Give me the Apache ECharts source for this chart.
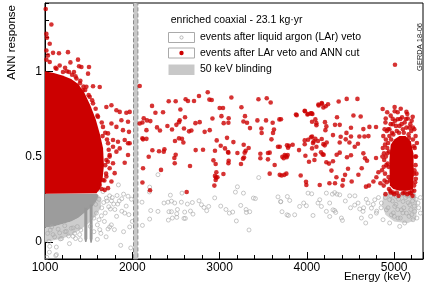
<!DOCTYPE html>
<html><head><meta charset="utf-8">
<script src="https://cdn.jsdelivr.net/npm/echarts@6/dist/echarts.min.js"></script>
<style>html,body{margin:0;padding:0;background:#fff}#c{width:427px;height:286px}</style>
</head><body><div id="c"></div>
<script>
// ---- data (energy keV, ANN response) ----
const xTickLabels = [1000, 2000, 3000, 4000, 5000];
const yTickLabels = [0, 0.5, 1];
const blinding = [2014, 2064];

// events after LAr veto and ANN cut (sparse, individually read)
const redPoints = [
[1008,1.365],[1073,1.274],[1016,1.219],[1023,1.196],[1054,1.161],[1016,1.122],[1092,1.108],[1160,1.106],[1263,1.112],[1034,1.093],
[1016,1.068],[1054,1.054],[1291,1.052],[1378,1.068],[1417,1.025],[1504,1.025],[1493,0.986],[1168,1.034],[1390,1.029],
[1275,0.996],[1332,0.996],[1550,0.912],[1627,0.908],[1474,0.909],[1405,0.944],[1703,0.791],[1761,0.801],[1818,0.772],[1856,0.762],
[1932,0.757],[1970,0.762],[1951,0.704],[1875,0.713],[1893,0.655],[1962,0.645],[1818,0.674],[1761,0.694],[1913,0.597],[1856,0.548],
[1970,0.578],[1779,0.597],[1722,0.636],[1664,0.674],[1607,0.733],[1550,0.812],[1512,0.85],[1435,0.889],[1360,0.958],[1206,0.996],[1131,1.015],
[1722,0.578],[1779,0.558],[1818,0.529],[1741,0.509],[1703,0.48],[1779,0.461],[1741,0.432],[1798,0.403],[1703,0.383],[1761,0.354],
[1684,0.305],[1722,0.315],[1913,0.464],[1951,0.509],[1951,0.578],[1836,0.587],[1627,0.334],[1664,0.363],
[1250,1.0],[1350,0.97],[1400,0.93],[1460,0.89],[1500,0.86],[1580,0.78],[1600,0.74],[1650,0.7],[1690,0.64],[1710,0.6],[1730,0.54],
[1720,0.47],[1700,0.4],[1680,0.36],[1650,0.31],[1230,1.02],[1120,1.02],[1310,0.98],[1440,0.91],[1540,0.83],[1660,0.62],[1740,0.5],[1690,0.45],
[2162,0.655],[2116,0.607],[2085,0.694],
[2085,0.914],[2226,0.797],[2417,0.824],[2497,0.824],[2611,0.836],[2638,0.826],[2707,0.826],[2764,0.855],[2864,0.877],[2883,0.834],
[2910,0.832],[3135,0.846],[3445,0.836],[3540,0.842],[3585,0.817],[2265,0.757],[2352,0.76],[2551,0.776],[3001,0.785],[3039,0.785],
[3250,0.789],[2131,0.725],[2168,0.712],[2207,0.708],[2543,0.713],[2604,0.731],[2918,0.723],[3021,0.737],[3104,0.725],[3291,0.737],
[3273,0.706],[3433,0.712],[3532,0.712],[3685,0.718],[3875,0.747],[3975,0.768],[4013,0.75],[4055,0.753],[4132,0.805],[4170,0.814],
[4215,0.795],[2116,0.7],[2283,0.671],[2317,0.653],[2402,0.679],[2455,0.659],[2505,0.686],[2535,0.702],[2592,0.665],[2650,0.648],
[2677,0.653],[2723,0.696],[2772,0.702],[2829,0.645],[2887,0.655],[3047,0.696],[3101,0.698],[3314,0.698],[3348,0.667],[3479,0.665],
[3608,0.698],[3623,0.659],[3612,0.639],[3482,0.638],[4059,0.704],[4207,0.702],[4109,0.684],[2123,0.601],[2162,0.604],[2489,0.591],
[2535,0.607],[2569,0.604],[2585,0.583],[2967,0.595],[3085,0.61],[3158,0.585],[3594,0.601],[3669,0.558],[3784,0.552],[3837,0.569],
[3910,0.538],[3975,0.595],[4059,0.618],[4097,0.604],[4127,0.591],[4170,0.603],[4204,0.566],[4109,0.558],[4059,0.548],[2230,0.537],
[2306,0.531],[2368,0.543],[2726,0.538],[2810,0.54],[2947,0.534],[3013,0.564],[3062,0.548],[3096,0.527],[3204,0.521],[3276,0.569],
[3299,0.534],[3333,0.55],[3467,0.517],[3574,0.523],[3746,0.509],[3769,0.496],[3983,0.505],[4097,0.511],[4181,0.513],[2188,0.499],
[2482,0.492],[3280,0.494],[3467,0.49],
[2123,0.432],[2360,0.529],[2497,0.511],[2486,0.461],[2329,0.422],[2116,0.348],[2203,0.303],[2661,0.445],[2623,0.293],[2929,0.478],
[2955,0.457],[3101,0.523],[3104,0.476],[3101,0.461],[3245,0.457],[3268,0.488],[3287,0.523],[2963,0.408],[2947,0.387],[2959,0.377],
[2975,0.379],[2955,0.363],[2940,0.33],[3044,0.398],[3554,0.521],[3554,0.484],[3631,0.451],[3574,0.4],[3689,0.393],[3711,0.389],
[3765,0.4],[3734,0.49],[3761,0.503],[3780,0.509],
[5009,1.038],[4135,0.799],[4173,0.809],[4189,0.788],[4242,0.807],[4364,0.823],[4456,0.838],[4579,0.838],[3978,0.766],[4006,0.747],
[4044,0.753],[4063,0.75],[3883,0.743],[4097,0.718],[4109,0.696],[4345,0.731],[4533,0.741],[4616,0.735],[4868,0.779],[5006,0.766],
[5140,0.762],[4903,0.723],[4983,0.721],[5040,0.719],[5155,0.723],[5212,0.733],[3703,0.719],[4223,0.677],[4212,0.655],[4322,0.686],
[4376,0.686],[4453,0.639],[4505,0.669],[4647,0.661],[4716,0.674],[4792,0.673],[4299,0.626],[4387,0.616],[4445,0.601],[4505,0.618],
[4601,0.618],[4659,0.618],[4705,0.62],[4013,0.599],[4047,0.613],[4078,0.589],[3975,0.572],[4189,0.573],[4227,0.583],[4376,0.583],
[4487,0.583],[4548,0.558],[4585,0.575],[3795,0.564],[3689,0.558],
[3772,0.566],[3719,0.499],[3742,0.393],[3929,0.389],[3990,0.352],[3994,0.334],[4147,0.334],[4086,0.48],[4024,0.47],[4070,0.579],
[4162,0.525],[4192,0.511],[4223,0.467],[4253,0.459],[4341,0.511],[4376,0.523],[4299,0.473],[4281,0.418],[4338,0.379],[4258,0.344],
[4322,0.344],[4414,0.363],[4437,0.393],[4471,0.429],[4505,0.508],[4459,0.496],[4407,0.33],[4513,0.354],[4590,0.394],[4628,0.432],
[4647,0.519],[4666,0.49],[4689,0.476],[4711,0.33],[4677,0.324],[4762,0.354],[4796,0.379],[4819,0.408],[4842,0.344],[4883,0.519],[4792,0.492],
[4900,0.70],[4930,0.66],[4960,0.74],[4985,0.69],[5010,0.71],[5040,0.76],[5060,0.68],[5090,0.73],[5120,0.70],[5150,0.75],[5175,0.67],
[5200,0.71],[5230,0.66],[5245,0.62],[4945,0.62],[4975,0.64],[5030,0.65],[5100,0.66],[5165,0.63],[5215,0.60],[5005,0.79],[5075,0.78],[4920,0.76],
[4870,0.55],[4885,0.48],[4895,0.40],[4905,0.60],[4915,0.35],[4925,0.52],[4935,0.44],[4940,0.31],[4880,0.33],[4900,0.28],[4910,0.45],
[4930,0.58],[4860,0.42],[4875,0.62],[4890,0.66],[5235,0.55],[5245,0.45],[5240,0.35],[5250,0.50],[5230,0.30],[5255,0.40],[5260,0.58],
[5225,0.40],[4960,0.29],[5000,0.28],[5050,0.27],[5100,0.285],[5150,0.28],[5190,0.285],[5210,0.27],
[4945,0.66],[4965,0.60],[4990,0.63],[5020,0.68],[5055,0.64],[5085,0.69],[5110,0.64],[5140,0.67],[5170,0.61],[5195,0.65],[5225,0.56],
[5240,0.5],[5232,0.42],[5248,0.37],[5228,0.33],[4935,0.38],[4925,0.46],[4940,0.53],[4920,0.55],[4905,0.5],[4890,0.36],[4950,0.36],
[4955,0.30],[4985,0.29],[5030,0.29],[5120,0.29],[5175,0.29],[5205,0.30],[4895,0.57],[4880,0.44],[4865,0.5],[4915,0.65],[4960,0.69],
[5070,0.72],[5135,0.72],[5185,0.69],[5215,0.67]
];

// events after LAr veto only (open circles, sparse)
const grayPoints = [
[1841,0.334],[1825,0.272],[1879,0.253],[1761,0.241],[1787,0.222],[1730,0.206],[1749,0.193],[1833,0.222],[1913,0.169],[1970,0.088],
[1951,0.268],[1646,0.153],[1619,0.13],[1741,0.088],[1722,0.076],[1795,0.072],[1982,-0.035],[1123,-0.08],[1600,0.015],[1867,-0.02],
[1672,0.231],[1703,0.257],[1664,0.295],[1619,0.309],[1577,0.328],[1589,0.169],[1520,0.091],[1321,0.033],[1245,0.062],[1168,0.053],
[1092,0.043],[1046,0.004],[1176,0.018],[1397,0.043],[1405,0.013],[1627,0.072],[1077,0.088],[1226,0.095],[1321,0.082],
[1030,0.05],[1060,0.07],[1110,0.03],[1150,0.075],[1190,0.02],[1230,0.06],[1270,0.035],[1300,0.08],[1340,0.05],[1370,0.09],[1410,0.07],
[1280,-0.01],[1130,-0.03],[1050,-0.06],[1020,-0.09],[1350,0.02],[1560,0.14],[1580,0.22],[1620,0.25],[1650,0.2],[1690,0.17],[1710,0.24],
[1740,0.27],[1770,0.26],[1800,0.19],[1820,0.15],[1850,0.24],[1880,0.18],[1900,0.28],[1930,0.21],[1960,0.16],[1990,0.25],[2000,0.12],
[1680,0.12],[1600,0.1],[1560,0.06],[1640,0.05],[1700,0.03],[1760,0.1],[1900,0.06],[1054,-0.026],[1131,-0.074],
[2294,0.394],[2199,0.321],[2196,0.293],[2436,0.274],[2569,0.286],[2688,0.231],[2764,0.241],[2111,0.233],[2363,0.228],[2409,0.233],
[2448,0.239],[2486,0.228],[2562,0.233],[2631,0.222],[2792,0.218],[2821,0.202],[2875,0.208],[2852,0.183],[2211,0.184],[2294,0.179],
[2420,0.177],[2448,0.177],[2517,0.19],[2509,0.165],[2600,0.175],[2666,0.181],[2695,0.163],[2459,0.14],[2413,0.128],[2509,0.144],
[2592,0.138],[2608,0.138],[2199,0.134],[2116,0.097],[2944,0.258],[3013,0.21],[3073,0.19],[3112,0.169],[3150,0.175],[3192,0.123],
[3181,0.292],[3204,0.323],[3273,0.286],[3242,0.214],[3303,0.19],[3307,0.173],[3345,0.177],[3387,0.257],[3410,0.254],[3337,0.07],
[3448,0.377],[3669,0.264],[3700,0.235],[3715,0.177],[3776,0.266],[3788,0.155],
[3700,0.237],[3803,0.243],[3772,0.159],[3860,0.159],[4070,0.155],[4013,0.286],[4055,0.282],[4147,0.247],[4127,0.228],[4166,0.208],
[4223,0.179],[4261,0.149],[4223,0.286],[4318,0.289],[4376,0.276],[4299,0.188],[4395,0.14],[3963,0.228],[3994,0.212],[3917,0.208],
[4292,0.28],[4345,0.28],[4261,0.228],[4318,0.184],[4330,0.173],[4407,0.126],[4490,0.27],[4548,0.216],[4586,0.228],[4605,0.193],
[4643,0.179],[4674,0.111],[4624,0.14],[4700,0.228],[4739,0.198],[4777,0.247],[4796,0.169],[4853,0.228],[4872,0.13],[4911,0.188],
[4948,0.247],[4968,0.159],[5006,0.208],[5025,0.266],[5044,0.14],[5083,0.188],[5101,0.237],[5120,0.111],[5140,0.169],[5178,0.218],
[5197,0.266],[5216,0.13],[5235,0.179],[5273,0.228],[5300,0.169],[4948,0.111],[5063,0.091],
[4900,0.26],[4930,0.2],[4960,0.27],[4990,0.17],[5020,0.22],[5050,0.25],[5070,0.14],[5090,0.28],[5110,0.2],[5130,0.26],[5160,0.23],
[5170,0.15],[5190,0.19],[5210,0.24],[5225,0.27],[5250,0.25],[5260,0.14],[5280,0.2],[5300,0.26],[4980,0.24],[5000,0.15],[5040,0.19],
[5100,0.17],[5150,0.27],[5200,0.16],[5230,0.21],[4850,0.2],[4820,0.26],[4800,0.18],[4760,0.22],[4730,0.15],[4680,0.25],[4650,0.2],
[4550,0.27],[4500,0.2],[4440,0.24]
];

// envelopes of the regions too dense to resolve single events
const redCoreLeft = [[1000,0.282],[1000,1.0],[1100,0.99],[1200,0.975],[1300,0.955],[1380,0.925],[1450,0.875],[1520,0.80],[1580,0.72],[1630,0.63],[1665,0.55],[1675,0.45],[1660,0.37],[1630,0.31],[1590,0.285]];
const grayCoreLeft = [[1000,0.282],[1595,0.282],[1615,0.27],[1590,0.24],[1550,0.21],[1500,0.19],[1440,0.165],[1380,0.14],[1300,0.12],[1200,0.105],[1100,0.09],[1000,0.085]];
const grayFringeLeft = [[1000,0.085],[1100,0.09],[1200,0.105],[1300,0.12],[1380,0.14],[1440,0.165],[1500,0.19],[1550,0.21],[1590,0.24],[1615,0.27],[1640,0.26],[1640,0.2],[1580,0.15],[1500,0.11],[1400,0.07],[1300,0.04],[1200,0.02],[1100,0.01],[1000,0.0]];
const k40Line = [[1450,0.2],[1485,0.2],[1485,0.02],[1475,0.0],[1460,0.0],[1450,0.02]];
const k42Line = [[1512,0.22],[1545,0.22],[1545,0.02],[1535,-0.005],[1520,-0.005],[1512,0.02]];
const redCoreRight = [[4950,0.33],[4945,0.48],[4960,0.57],[5000,0.60],[5060,0.62],[5130,0.62],[5190,0.59],[5220,0.52],[5225,0.40],[5215,0.31],[5150,0.30],[5060,0.30],[4990,0.31]];
const grayCoreRight = [[4880,0.29],[5240,0.29],[5265,0.22],[5250,0.13],[5150,0.11],[5000,0.12],[4900,0.16],[4860,0.22]];

const FONT = '"Liberation Sans", Arial, sans-serif';
function polySeries(pts, fill, z) {
  return {
    type: 'custom', coordinateSystem: 'cartesian2d', data: pts, z: z, silent: true, clip: true,
    renderItem: function (params, api) {
      if (params.dataIndex !== 0) return null;
      return { type: 'polygon', shape: { points: pts.map(function (p) { return api.coord(p); }) }, style: { fill: fill } };
    }
  };
}

const chart = echarts.init(document.getElementById('c'), null, { renderer: 'canvas' });
chart.setOption({
  animation: false,
  backgroundColor: '#fff',
  grid: { left: 45, right: 4, top: 3, bottom: 27, show: true, borderColor: '#000', borderWidth: 1, backgroundColor: 'transparent' },
  xAxis: {
    type: 'value', min: 1000, max: 5330, interval: 1000,
    axisLine: { show: true, onZero: false, lineStyle: { color: '#000', width: 1 } },
    axisTick: { show: true, inside: true, length: 7, lineStyle: { color: '#000' } },
    minorTick: { show: true, splitNumber: 5, length: 4, lineStyle: { color: '#000' } },
    axisLabel: { customValues: xTickLabels, margin: 3, fontSize: 12, color: '#000', fontFamily: FONT, formatter: function (v) { return String(v); } },
    splitLine: { show: false }
  },
  yAxis: [{
    type: 'value', min: -0.1, max: 1.4, interval: 0.1,
    axisLine: { show: true, onZero: false, lineStyle: { color: '#000', width: 1 } },
    axisTick: { show: true, inside: true, length: 4, lineStyle: { color: '#000' } },
    axisLabel: { customValues: yTickLabels, margin: 3, fontSize: 12, color: '#000', fontFamily: FONT },
    splitLine: { show: false }
  }, {
    type: 'value', min: -0.1, max: 1.4, position: 'left',
    axisLine: { show: false },
    axisTick: { show: true, inside: true, length: 8, customValues: yTickLabels, lineStyle: { color: '#000' } },
    axisLabel: { show: false },
    splitLine: { show: false }
  }],
  series: [
    polySeries(grayFringeLeft, '#cdcdcd', 1),
    polySeries(grayCoreLeft, '#9c9c9c', 2),
    polySeries(k40Line, '#979797', 2),
    polySeries(k42Line, '#979797', 2),
    polySeries(grayCoreRight, '#d2d2d2', 1),
    {
      type: 'scatter', name: 'events after liquid argon (LAr) veto', data: grayPoints, z: 3,
      symbol: 'circle', symbolSize: 4,
      itemStyle: { color: 'rgba(0,0,0,0)', borderColor: '#a8a8a8', borderWidth: 0.8 }, silent: true
    },
    polySeries(redCoreLeft, '#cc0000', 4),
    polySeries(redCoreRight, '#cc0000', 4),
    {
      type: 'scatter', name: 'events after LAr veto and ANN cut', data: redPoints, z: 5,
      symbol: 'circle', symbolSize: 4.6, itemStyle: { color: '#cc0000' }, silent: true
    },
    {
      type: 'scatter', name: '50 keV blinding', data: [], z: 6,
      markArea: {
        silent: true,
        itemStyle: { color: '#c8c8c8', borderColor: '#8a8a8a', borderWidth: 1, borderType: 'dashed' },
        data: [[{ xAxis: blinding[0] }, { xAxis: blinding[1] }]]
      }
    }
  ],
  graphic: [
    { type: 'text', x: 170.7, y: 20, z: 100, style: { text: 'enriched coaxial - 23.1 kg\u00b7yr', fill: '#000', fontSize: 10.5, fontFamily: FONT, align: 'left', verticalAlign: 'middle' } },
    { type: 'rect', z: 100, shape: { x: 168.5, y: 32.5, width: 26, height: 10 }, style: { fill: '#fff', stroke: '#aaa', lineWidth: 1 } },
    { type: 'circle', z: 101, shape: { cx: 181.5, cy: 37.5, r: 1.6 }, style: { fill: 'none', stroke: '#aaa', lineWidth: 0.8 } },
    { type: 'text', x: 200, y: 37.5, z: 100, style: { text: 'events after liquid argon (LAr) veto', fill: '#000', fontSize: 10.5, fontFamily: FONT, align: 'left', verticalAlign: 'middle' } },
    { type: 'rect', z: 100, shape: { x: 168.5, y: 48, width: 26, height: 10 }, style: { fill: '#fff', stroke: '#aaa', lineWidth: 1 } },
    { type: 'circle', z: 101, shape: { cx: 181.5, cy: 53, r: 2.2 }, style: { fill: '#cc0000' } },
    { type: 'text', x: 200, y: 53, z: 100, style: { text: 'events after LAr veto and ANN cut', fill: '#000', fontSize: 10.5, fontFamily: FONT, align: 'left', verticalAlign: 'middle' } },
    { type: 'rect', z: 100, shape: { x: 168.5, y: 64.5, width: 26, height: 10.5 }, style: { fill: '#c8c8c8' } },
    { type: 'text', x: 200, y: 69.5, z: 100, style: { text: '50 keV blinding', fill: '#000', fontSize: 10.5, fontFamily: FONT, align: 'left', verticalAlign: 'middle' } },
    { type: 'text', x: 12, y: 5, rotation: Math.PI / 2, z: 100, style: { text: 'ANN response', fill: '#000', fontSize: 11.5, fontFamily: FONT, align: 'right', verticalAlign: 'middle' } },
    { type: 'text', x: 411, y: 277, z: 100, style: { text: 'Energy (keV)', fill: '#000', fontSize: 11.5, fontFamily: FONT, align: 'right', verticalAlign: 'middle' } },
    { type: 'text', x: 419.5, y: 23, rotation: Math.PI / 2, z: 100, style: { text: 'GERDA 18-06', fill: '#222', fontSize: 7.5, fontFamily: FONT, align: 'right', verticalAlign: 'middle' } }
  ]
});
</script>
</body></html>
